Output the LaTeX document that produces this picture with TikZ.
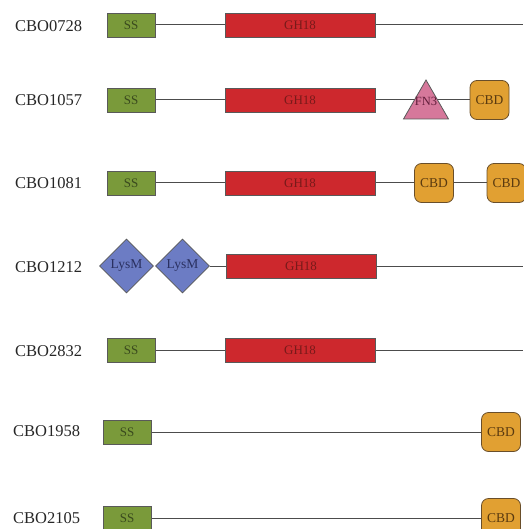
\documentclass[tikz,border=0pt]{standalone}
\usepackage{tikz}
\usetikzlibrary{shapes.geometric, backgrounds}
\usepackage{fontspec}
\setmainfont{Liberation Serif}
\usepackage{xcolor}
\definecolor{ssfill}{RGB}{122,154,58}
\definecolor{sstext}{RGB}{58,74,30}
\definecolor{ghfill}{RGB}{205,40,45}
\definecolor{ghtext}{RGB}{120,26,26}
\definecolor{fnfill}{RGB}{214,120,155}
\definecolor{fntext}{RGB}{100,30,60}
\definecolor{cbdfill}{RGB}{225,160,50}
\definecolor{cbdline}{RGB}{105,78,42}
\definecolor{cbdtext}{RGB}{90,58,16}
\definecolor{lysfill}{RGB}{108,124,196}
\definecolor{lystext}{RGB}{42,48,96}
\tikzset{%
	dombox/.style={
		draw=black!65,
		line width=0.8pt,
		inner sep=0pt,
		font=\fontsize{13}{13}\selectfont
	},
	ssbox/.style={dombox, fill=ssfill, text=sstext, minimum width=48pt, minimum height=24pt},
	ghbox/.style={dombox, fill=ghfill, text=ghtext, minimum width=150pt, minimum height=24pt},
	cbdbox/.style={dombox, draw=cbdline, fill=cbdfill, text=cbdtext, rounded corners=7pt,
		minimum width=39pt, minimum height=39pt, font=\fontsize{13.5}{13.5}\selectfont},
	fntri/.style={dombox, regular polygon, regular polygon sides=3, minimum size=52pt,
		fill=fnfill, text=fntext, font=\fontsize{12.5}{12.5}\selectfont},
	lysbox/.style={dombox, diamond, aspect=1, minimum size=54pt, fill=lysfill, text=lystext,
		font=\fontsize{13.5}{13.5}\selectfont},
	seqname/.style={anchor=west, inner sep=0pt, text=black!85, font=\fontsize{16.5}{16.5}\selectfont},
	conn/.style={draw=black!70, line width=1pt}
}
\begin{document}
\begin{tikzpicture}[x=1pt, y=-1pt]
	\useasboundingbox (0,0) rectangle (523,529);
	
	% CBO0728
	\node[seqname] (n1) at (15,26) {CBO0728};
	\node[ssbox] (ss1) at (131,25) {SS};
	\node[ghbox] (gh1) at (300,25) {GH18};
	\coordinate (e1) at (523,25);
	
	% CBO1057
	\node[seqname] (n2) at (15,100) {CBO1057};
	\node[ssbox] (ss2) at (131,100) {SS};
	\node[ghbox] (gh2) at (300,100) {GH18};
	\node[fntri] (fn2) at (426,106) {\smash{\makebox[0pt]{FN3}}};
	\node[cbdbox] (cbd2) at (489.5,100) {CBD};
	
	% CBO1081
	\node[seqname] (n3) at (15,183) {CBO1081};
	\node[ssbox] (ss3) at (131,183) {SS};
	\node[ghbox] (gh3) at (300,183) {GH18};
	\node[cbdbox] (cbd3a) at (434,183) {CBD};
	\node[cbdbox] (cbd3b) at (506.5,183) {CBD};
	
	% CBO1212
	\node[seqname] (n4) at (15,267) {CBO1212};
	\node[lysbox] (lys4a) at (126.5,266) {LysM};
	\node[lysbox] (lys4b) at (182.5,266) {LysM};
	\node[ghbox] (gh4) at (301,266) {GH18};
	\coordinate (e4) at (523,266);
	
	% CBO2832
	\node[seqname] (n5) at (15,351) {CBO2832};
	\node[ssbox] (ss5) at (131,350) {SS};
	\node[ghbox] (gh5) at (300,350) {GH18};
	\coordinate (e5) at (523,350);
	
	% CBO1958
	\node[seqname] (n6) at (13,431) {CBO1958};
	\node[ssbox] (ss6) at (127,432) {SS};
	\node[cbdbox] (cbd6) at (501,432) {CBD};
	
	% CBO2105
	\node[seqname] (n7) at (13,518) {CBO2105};
	\node[ssbox] (ss7) at (127,518) {SS};
	\node[cbdbox] (cbd7) at (501,518) {CBD};
	
	% Linkers between the domains
	\begin{scope}[on background layer]
		\draw[conn] (ss1) -- (gh1) -- (e1);
		\draw[conn] (ss2) -- (gh2) -- (cbd2);
		\draw[conn] (ss3) -- (gh3) -- (cbd3a) -- (cbd3b);
		\draw[conn] (lys4b) -- (gh4) -- (e4);
		\draw[conn] (ss5) -- (gh5) -- (e5);
		\draw[conn] (ss6) -- (cbd6);
		\draw[conn] (ss7) -- (cbd7);
	\end{scope}
	
\end{tikzpicture}
\end{document}
